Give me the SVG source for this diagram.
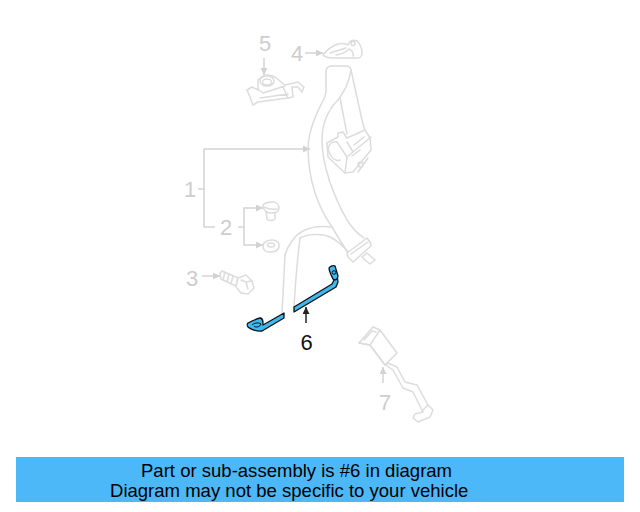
<svg xmlns="http://www.w3.org/2000/svg" width="640" height="512" viewBox="0 0 640 512">
<style>
.g{fill:none;stroke:#dcdcdc;stroke-width:1.500;stroke-linejoin:round;stroke-linecap:round}
.w{fill:#fff;stroke:#dcdcdc;stroke-width:1.500;stroke-linejoin:round}
.l{fill:none;stroke:#d4d4d4;stroke-width:1.500}
.n{font-family:"Liberation Sans",Arial,sans-serif;font-size:22px;fill:#cdcdcd;text-anchor:middle}
.b{fill:#3fb8f0;stroke:#111;stroke-width:1.300;stroke-linejoin:round}
.t{font-family:"Liberation Sans",Arial,sans-serif;font-size:18.550px;fill:#000}
</style>
<defs>
<marker id="ag" markerWidth="9" markerHeight="9" refX="7" refY="3.500" orient="auto" markerUnits="userSpaceOnUse"><path d="M0 0L7 3.500L0 7Z" fill="#d2d2d2"/></marker>
<marker id="ak" markerWidth="9" markerHeight="9" refX="7" refY="3.500" orient="auto" markerUnits="userSpaceOnUse"><path d="M0 0L7 3.500L0 7Z" fill="#222"/></marker>
</defs>
<g id="connectors">
<path class="l" d="M198 189H204V149H310" marker-end="url(#ag)"/>
<path class="l" d="M204 189V227H215"/>
<path class="l" d="M238 227H244V208H263" marker-end="url(#ag)"/>
<path class="l" d="M244 227V245H263" marker-end="url(#ag)"/>
<path class="l" d="M202 276H220" marker-end="url(#ag)"/>
<path class="l" d="M305 53H323" marker-end="url(#ag)"/>
<path class="l" d="M264 58V75" marker-end="url(#ag)"/>
<path class="l" d="M383 383V367" marker-end="url(#ag)"/>
<path d="M306 323V307" fill="none" stroke="#222" stroke-width="1.500" marker-end="url(#ak)"/>
</g>
<g id="part-1">
<path class="g" d="M285 255C288 245 295 235 303 231C310 227 322 226 332 227"/>
<path class="g" d="M300 238C308 234 322 233 330 237C338 241 344 247 348 252"/>
<path class="g" d="M300 238C297 262 295 290 294 307"/>
<path class="g" d="M285 255C284 275 283 296 282 313"/>
<path class="g" d="M340 98L347 134"/>
<path class="g" d="M326 72Q326 66 332 66H347Q350 66 351 70L362 120L365 131"/>
<path class="g" d="M326 72V92C325 100 318 108 315 118C310 130 308 140 308 150C309 185 320 210 332 227C338 237 343 246 349 254"/>
<path class="g" d="M351 70C349 83 345 90 338 100C328 110 322 124 322 140C322 165 333 195 347 220C352 228 358 234 364 238"/>
<path class="w" d="M347 253L367 238L370 242L371 246L353 262L348 257Z"/>
<path class="g" d="M351 254L368 242"/>
<path class="w" d="M362 257L367 253L375 260L370 264L365 260Z"/>
<path class="w" d="M327 143L338 137L338 133L343 132L347 138L365 130L370 138L371 150L353 172L345 173L328 157Z"/>
<path class="g" d="M337 142C331 141 327 146 329 152C331 158 336 162 340 160"/>
<path class="g" d="M337 142L347 157L345 173M347 157L371 137M347 142L353 152M354 145L364 137M352 156L360 150M358 172L368 158"/>
<circle class="g" cx="360.500" cy="164.500" r="2.500"/>
</g>
<g id="part-2a">
<path class="w" d="M266 212L267 219C269 221 273 221 275 219L275 212Z"/>
<path class="w" d="M263 206C263 203 269 202 273 202C277 202 279 205 279 208C279 212 275 213 271 213C267 213 263 210 263 206Z"/>
<path class="g" d="M264 207C268 209 272 210 277 209"/>
</g>
<g id="part-2b">
<path class="w" d="M263 246C263 242 268 240 272 240C277 240 280 243 279 247C278 251 274 252 270 252C266 252 263 250 263 246Z"/>
<ellipse class="g" cx="271" cy="245" rx="3.500" ry="2"/>
</g>
<g id="part-3">
<path class="w" d="M220 273L222 271L238 278L236 286L221 279Z"/>
<path class="w" d="M238 278L246 275L252 281L254 288L248 294L241 293L236 287Z"/>
<path class="g" d="M225 272L223 280M229 274L227 282M233 276L231 284M241 280L246 282L248 289M246 282L251 281"/>
</g>
<g id="part-4">
<path class="w" d="M323 55C326 51 332 46 338 44C343 43 346 44 348 45C349 41 353 39 357 41C360 44 362 49 362 53C362 56 360 58 358 58L333 58C329 58 325 57 323 55Z"/>
<path class="g" d="M330 53L346 48M336 55C342 54 347 51 349 49C352 50 354 53 353 56"/>
<circle class="g" cx="353" cy="43.500" r="2"/>
</g>
<g id="part-5">
<path class="w" d="M247 90L252 87L258 90L258 80C261 77 264 75 267 75C271 75 273 76 275 77L285 85L298 82L304 87L302 92L298 87L292 87L293 97L288 98L258 102L253 105L250 97Z"/>
<ellipse class="g" cx="267" cy="81" rx="7" ry="5"/>
<ellipse class="g" cx="267" cy="82" rx="4.500" ry="3"/>
<path class="g" d="M259 90L263 93L285 86M283 87L288 98M260 98L288 94"/>
</g>
<g id="part-6">
<path class="b" d="M294 307L332 284L334 280L332 276L337 275L338 282L336 287L294 312Z"/>
<path class="b" d="M329 268C330 266 334 265 335 266L338 276C338 279 335 281 333 279C331 275 329 271 329 268Z"/>
<circle cx="334" cy="272.500" r="1.800" fill="none" stroke="#111" stroke-width="1"/>
<path class="b" d="M263 325L284 313L284 318L262 331C257 332 250 329 248 327C247 326 247 324 248 323C252 321 256 319 260 318C263 318 263 321 263 325Z"/>
<path d="M252 325C254 323 258 322 261 324C260 327 256 328 254 326" fill="none" stroke="#111" stroke-width="1"/>
</g>
<g id="part-7">
<path class="w" d="M388 363L397 367L405 382L417 385L428 405L433 410L430 417L418 422L413 418L415 414L423 412L413 392L403 388L393 370L386 365Z"/>
<path class="w" d="M359 343L373 327L380 330L397 353L385 365L370 345Z"/>
<path class="g" d="M359 343L370 345L385 365M370 345L380 330M364 340L372 331L376 332"/>
<path class="g" d="M428 405L422 411"/>
</g>
<g id="labels">
<text class="n" x="190" y="197">1</text>
<text class="n" x="226" y="235">2</text>
<text class="n" x="192" y="286">3</text>
<text class="n" x="297" y="61">4</text>
<text class="n" x="265" y="51">5</text>
<text x="306.500" y="350" font-family="'Liberation Sans',Arial,sans-serif" font-size="22" fill="#111" text-anchor="middle">6</text>
<text class="n" x="385" y="410">7</text>
</g>
<g id="banner">
<rect x="16" y="457" width="608" height="45" fill="#4db8f8"/>
<text class="t" x="141" y="477">Part or sub-assembly is #6 in diagram</text>
<text class="t" x="110" y="497">Diagram may not be specific to your vehicle</text>
</g>
</svg>
